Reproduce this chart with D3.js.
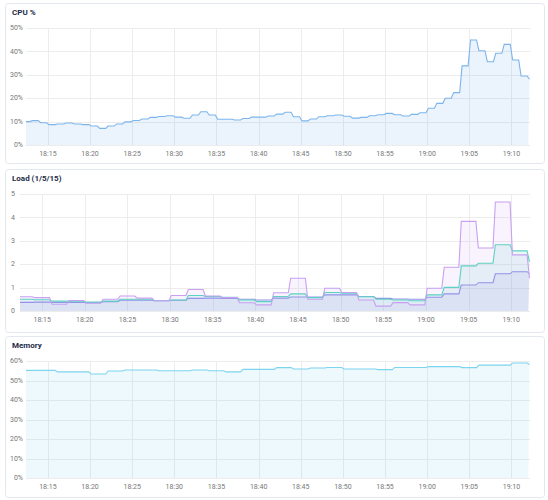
<!DOCTYPE html>
<html>
<head>
<meta charset="utf-8">
<script src="https://cdn.jsdelivr.net/npm/d3@7"></script>
<style>
  body { margin: 0; background: #fff; font-family: Roboto, "Noto Sans", sans-serif; }
</style>
</head>
<body>
<div id="chart"></div>
<script>
'use strict';

// samples: cpu every minute from 18:12, load and memory every 2 minutes from 18:12
var startTime = '18:12';
var cpuStep = 1;
var slowStep = 2;

var cpuValues = [10.0, 10.4, 9.5, 8.7, 9.0, 9.4, 9.0, 8.7, 8.1, 7.1, 8.1, 9.0, 9.9, 10.5, 11.1, 11.8,
  12.2, 12.5, 11.9, 11.4, 12.8, 14.2, 12.8, 11.0, 11.0, 10.7, 11.3, 11.9, 11.9, 12.4, 13.2, 14.0,
  12.1, 10.3, 11.1, 12.1, 12.5, 12.8, 12.3, 11.5, 11.8, 12.5, 12.9, 13.5, 12.9, 12.4, 13.1, 13.8,
  15.7, 17.8, 20.0, 22.4, 33.8, 44.9, 40.3, 35.6, 39.2, 43.0, 36.3, 29.5, 28.1];

var load1 = [0.61, 0.57, 0.29, 0.45, 0.33, 0.50, 0.64, 0.55, 0.44, 0.66, 0.92, 0.64, 0.57, 0.35, 0.26, 0.78,
  1.40, 0.50, 0.97, 0.79, 0.47, 0.21, 0.36, 0.26, 0.97, 1.87, 3.83, 2.69, 4.66, 2.40, 1.40];
var load5 = [0.50, 0.48, 0.42, 0.42, 0.38, 0.42, 0.50, 0.50, 0.45, 0.47, 0.66, 0.62, 0.59, 0.47, 0.40, 0.62,
  0.73, 0.57, 0.79, 0.76, 0.61, 0.50, 0.47, 0.44, 0.69, 1.01, 1.93, 2.04, 2.83, 2.57, 2.10];
var load15 = [0.37, 0.38, 0.37, 0.37, 0.36, 0.40, 0.46, 0.46, 0.44, 0.46, 0.54, 0.55, 0.54, 0.50, 0.47, 0.55,
  0.60, 0.60, 0.69, 0.69, 0.62, 0.54, 0.51, 0.50, 0.59, 0.73, 1.11, 1.21, 1.59, 1.68, 1.60];

var memValues = [55.2, 55.2, 54.4, 54.4, 53.3, 54.9, 55.4, 55.4, 55.0, 55.0, 55.4, 55.0, 54.4, 55.7, 55.7, 56.6,
  55.9, 56.4, 56.7, 55.9, 55.9, 55.6, 56.7, 56.7, 57.1, 57.1, 56.6, 57.9, 57.9, 59.0, 58.2];

var cpuTicks = [0, 10, 20, 30, 40, 50];
var loadTicks = [0, 1, 2, 3, 4, 5];
var memTicks = [0, 10, 20, 30, 40, 50, 60];

var viewStart = '18:12:24';
var viewEnd = '19:12:12';

var parseHM = d3.timeParse('%H:%M');
var parseHMS = d3.timeParse('%H:%M:%S');
var t0 = parseHM(startTime);

function toSeries(values, step) {
  return values.map(function(v, i) {
    return { t: d3.timeMinute.offset(t0, i * step), v: v };
  });
}

// step-after curve with a short sloped change instead of a vertical jump
function RampStep(context, ramp) {
  this._context = context;
  this._ramp = ramp;
}
RampStep.prototype = {
  areaStart: function() { this._line = 0; },
  areaEnd: function() { this._line = NaN; },
  lineStart: function() { this._x = this._y = NaN; this._point = 0; },
  lineEnd: function() {
    if (this._line || (this._line !== 0 && this._point === 1)) this._context.closePath();
    if (this._line >= 0) this._line = 1 - this._line;
  },
  point: function(x, y) {
    x = +x; y = +y;
    if (this._point === 0) {
      this._point = 1;
      if (this._line) this._context.lineTo(x, y);
      else this._context.moveTo(x, y);
    } else {
      this._point = 2;
      if (y !== this._y) {
        var r = this._ramp / 2 * (x >= this._x ? 1 : -1);
        this._context.lineTo(x - r, this._y);
        this._context.lineTo(x + r, y);
      } else {
        this._context.lineTo(x, y);
      }
    }
    this._x = x; this._y = y;
  }
};
function rampStep(context) { return new RampStep(context, 2.4); }

var width = 548, height = 500;

var svg = d3.select('#chart').append('svg')
  .attr('width', width)
  .attr('height', height);

var panels = [
  { id: 'cpu', title: 'CPU %', top: 3, h: 160, left: 26, labelX: 23, yMax: 50, ticks: cpuTicks,
    fmt: function(d) { return d + '%'; },
    series: [{ data: toSeries(cpuValues, cpuStep), color: '#7cb5ec', fillOpacity: 0.15 }] },
  { id: 'load', title: 'Load (1/5/15)', top: 169, h: 163, left: 20, labelX: 15, yMax: 5, ticks: loadTicks,
    fmt: function(d) { return d; },
    series: [
      { data: toSeries(load15, slowStep), color: '#9393e8', fillOpacity: 0.13 },
      { data: toSeries(load5, slowStep), color: '#5fd1c2', fillOpacity: 0.13 },
      { data: toSeries(load1, slowStep), color: '#c8a0f2', fillOpacity: 0.13 }
    ] },
  { id: 'mem', title: 'Memory', top: 336, h: 161, left: 26, labelX: 23, yMax: 60, ticks: memTicks,
    fmt: function(d) { return d + '%'; },
    series: [{ data: toSeries(memValues, slowStep), color: '#7dd4ee', fillOpacity: 0.14 }] }
];

function drawPanel(p) {
  var g = svg.append('g').attr('class', 'panel ' + p.id);
  var right = 530;
  var plotTop = p.top + 25;
  var plotBottom = p.top + 142;

  g.append('rect')
    .attr('x', 5.5)
    .attr('y', p.top + 0.5)
    .attr('width', 539)
    .attr('height', p.h)
    .attr('rx', 3)
    .attr('fill', '#fff')
    .attr('stroke', '#e3e7ee');

  g.append('text')
    .attr('x', 12)
    .attr('y', p.top + 11.5)
    .attr('font-size', 8)
    .attr('font-weight', 'bold')
    .attr('fill', '#1c2b48')
    .text(p.title);

  var x = d3.scaleTime()
    .domain([parseHMS(viewStart), parseHMS(viewEnd)])
    .range([p.left, right]);

  var y = d3.scaleLinear()
    .domain([0, p.yMax])
    .range([plotBottom, plotTop]);

  var xTicks = x.ticks(d3.timeMinute.every(5));

  // grid
  g.append('g').selectAll('line')
    .data(p.ticks)
    .enter().append('line')
    .attr('x1', p.left).attr('x2', right)
    .attr('y1', function(d) { return Math.round(y(d)) + 0.5; })
    .attr('y2', function(d) { return Math.round(y(d)) + 0.5; })
    .attr('stroke', '#ececec');

  g.append('g').selectAll('line')
    .data(xTicks)
    .enter().append('line')
    .attr('x1', function(d) { return Math.round(x(d)) + 0.5; })
    .attr('x2', function(d) { return Math.round(x(d)) + 0.5; })
    .attr('y1', plotTop).attr('y2', plotBottom)
    .attr('stroke', '#ececec');

  // axis labels
  g.append('g').selectAll('text')
    .data(p.ticks)
    .enter().append('text')
    .attr('x', p.labelX)
    .attr('y', function(d) { return y(d); })
    .attr('dy', '0.32em')
    .attr('text-anchor', 'end')
    .attr('font-size', 7)
    .attr('fill', '#777')
    .text(p.fmt);

  var fmtTime = d3.timeFormat('%H:%M');
  g.append('g').selectAll('text')
    .data(xTicks)
    .enter().append('text')
    .attr('x', function(d) { return x(d); })
    .attr('y', plotBottom + 11)
    .attr('text-anchor', 'middle')
    .attr('font-size', 7)
    .attr('fill', '#777')
    .text(fmtTime);

  // data
  svg.append('clipPath').attr('id', 'clip-' + p.id)
    .append('rect')
    .attr('x', p.left).attr('y', plotTop - 5)
    .attr('width', right - p.left).attr('height', plotBottom - plotTop + 5);

  var plot = g.append('g').attr('clip-path', 'url(#clip-' + p.id + ')');

  var area = d3.area()
    .curve(rampStep)
    .x(function(d) { return x(d.t); })
    .y0(plotBottom)
    .y1(function(d) { return y(d.v); });

  var line = d3.line()
    .curve(rampStep)
    .x(function(d) { return x(d.t); })
    .y(function(d) { return y(d.v); });

  p.series.forEach(function(s) {
    plot.append('path')
      .datum(s.data)
      .attr('d', area)
      .attr('fill', s.color)
      .attr('fill-opacity', s.fillOpacity);
  });

  p.series.forEach(function(s) {
    plot.append('path')
      .datum(s.data)
      .attr('d', line)
      .attr('fill', 'none')
      .attr('stroke', s.color)
      .attr('stroke-width', 1.1);
  });
}

panels.forEach(drawPanel);
</script>
</body>
</html>
